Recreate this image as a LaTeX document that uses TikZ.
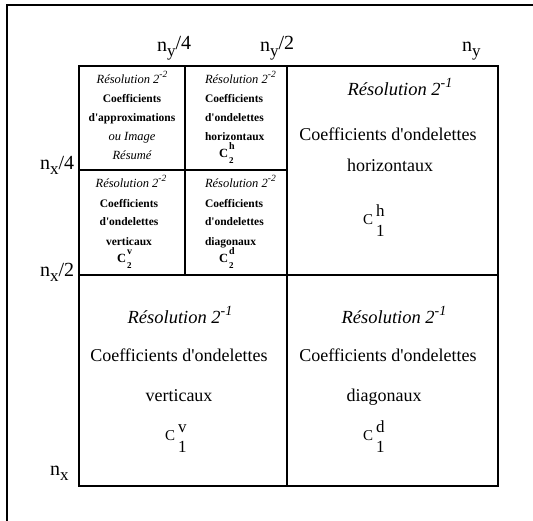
\documentclass[tikz,border=0pt]{standalone}
\usepackage{fontspec}
\setmainfont{Liberation Serif}
\newcommand{\fs}[1]{\fontsize{#1}{#1}\selectfont}
\newcommand{\ap}{\textquotesingle}
\newcommand{\bigC}[2]{{\fs{15}C}\hspace{3pt}{\fs{17}\rlap{\raisebox{8pt}{#1}}\raisebox{-12pt}{#2}}}
\newcommand{\smallC}[2]{{\fs{12.5}\bfseries C}\hspace{1pt}{\bfseries\rlap{\fs{10}\raisebox{8pt}{#1}}\fs{9}\raisebox{-6pt}{#2}}}
\newcommand{\supS}{\raisebox{0.5em}{\fs{9.5}-2}}
\newcommand{\supB}{\raisebox{0.45em}{\fs{14}-1}}
\newcommand{\nlab}[2]{n\raisebox{-5pt}{\fs{17}#1}#2}
\begin{document}
\begin{tikzpicture}[x=1pt,y=-1pt,
  every node/.style={inner sep=0pt,outer sep=0pt},
  gridline/.style={line width=1.5pt},
  framel/.style={line width=1.1pt},
  ax/.style={font=\fs{20},anchor=base west},
  sit/.style={font=\fs{12.5}\itshape,anchor=base},
  sbf/.style={font=\fs{11.5}\bfseries,anchor=base},
  sitl/.style={font=\fs{12.5}\itshape,anchor=base west},
  sbfl/.style={font=\fs{11.5}\bfseries,anchor=base west},
  bit/.style={font=\fs{18.5}\itshape,anchor=base},
  brm/.style={font=\fs{18},anchor=base},
  cl/.style={anchor=base west}]
\useasboundingbox (0,0) rectangle (533,521);
% frame
\draw[framel] (7,521) -- (7,5) -- (533,5);
% grid
\draw[gridline] (79,66) rectangle (498,486);
\draw[gridline] (287,66) -- (287,486);
\draw[gridline] (79,275) -- (498,275);
\draw[gridline] (185,66) -- (185,275);
\draw[gridline] (79,170) -- (287,170);
% axis labels
\node[ax] (ny4) at (157,52) {\nlab{y}{\raisebox{2pt}{/4}}};
\node[ax] (ny2) at (260,52) {\nlab{y}{\raisebox{2pt}{/2}}};
\node[ax] (ny) at (462,52) {\nlab{y}{}};
\node[ax] (nx4) at (40,170) {\nlab{x}{/4}};
\node[ax] (nx2) at (40,277) {\nlab{x}{/2}};
\node[ax] (nx) at (50,475) {\nlab{x}{}};
% top-left small cell
\node[sit] (a1) at (132,84) {Résolution 2\supS};
\node[sbf] (a2) at (132,103) {Coefficients};
\node[sbf] (a3) at (132,122) {d\ap approximations};
\node[sit] (a4) at (132,141) {ou Image};
\node[sit] (a5) at (132,160) {Résumé};
% top-right small cell
\node[sitl] (b1) at (205,84) {Résolution 2\supS};
\node[sbfl] (b2) at (205,103) {Coefficients};
\node[sbfl] (b3) at (205,122) {d\ap ondelettes};
\node[sbfl] (b4) at (205,141) {horizontaux};
\node[cl] (b5) at (219,158) {\smallC{h}{2}};
% bottom-left small cell
\node[sit] (c1) at (131,188) {Résolution 2\supS};
\node[sbf] (c2) at (129,208) {Coefficients};
\node[sbf] (c3) at (129,226) {d\ap ondelettes};
\node[sbf] (c4) at (129,246) {verticaux};
\node[cl] (c5) at (117,263) {\smallC{v}{2}};
% bottom-right small cell
\node[sitl] (d1) at (205,188) {Résolution 2\supS};
\node[sbfl] (d2) at (205,208) {Coefficients};
\node[sbfl] (d3) at (205,226) {d\ap ondelettes};
\node[sbfl] (d4) at (205,246) {diagonaux};
\node[cl] (d5) at (219,263) {\smallC{d}{2}};
% top-right big cell
\node[bit] (e1) at (400,96) {Résolution 2\supB};
\node[brm] (e2) at (388,141) {Coefficients d\ap ondelettes};
\node[brm] (e3) at (390,172) {horizontaux};
\node[cl] (e4) at (363,225) {\bigC{h}{1}};
% bottom-left big cell
\node[bit] (f1) at (180,324) {Résolution 2\supB};
\node[brm] (f2) at (179,362) {Coefficients d\ap ondelettes};
\node[brm] (f3) at (179,401) {verticaux};
\node[cl] (f4) at (165,440) {\bigC{v}{1}};
% bottom-right big cell
\node[bit] (g1) at (394,324) {Résolution 2\supB};
\node[brm] (g2) at (388,362) {Coefficients d\ap ondelettes};
\node[brm] (g3) at (384,401) {diagonaux};
\node[cl] (g4) at (363,440) {\bigC{d}{1}};
\end{tikzpicture}
\end{document}
